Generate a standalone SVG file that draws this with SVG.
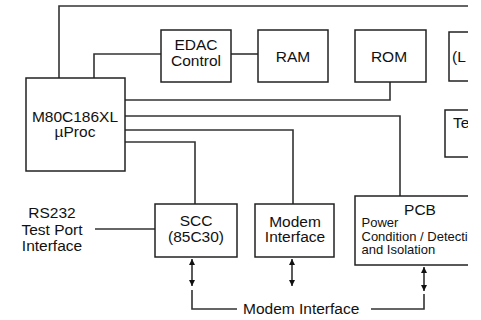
<svg xmlns="http://www.w3.org/2000/svg" width="481" height="320" viewBox="0 0 481 320">
<style>
.box{fill:#fff;stroke:#222;stroke-width:1.5}
.ln{fill:none;stroke:#333;stroke-width:1.6}
.t{font-family:"Liberation Sans",Arial,sans-serif;font-size:15.5px;fill:#111;text-anchor:middle}
.s{font-family:"Liberation Sans",Arial,sans-serif;font-size:13px;fill:#111}
</style>
<defs>
<clipPath id="clip"><rect x="0" y="0" width="468" height="320"/></clipPath>
<marker id="ah" viewBox="0 0 6 8" refX="6" refY="4" markerWidth="6" markerHeight="8" markerUnits="userSpaceOnUse" orient="auto-start-reverse">
<path d="M0,1 L6,4 L0,7 Z" fill="#111"/>
</marker>
</defs>
<rect width="481" height="320" fill="#fff"/>
<g clip-path="url(#clip)">
<g id="connectors">
<polyline class="ln" points="59,78 59,6 470,6"/>
<polyline class="ln" points="94,78 94,54 161,54"/>
<line class="ln" x1="231" y1="54" x2="258" y2="54"/>
<polyline class="ln" points="125,100 390,100 390,82"/>
<polyline class="ln" points="125,116 400,116 400,196"/>
<polyline class="ln" points="125,130 293,130 293,204"/>
<polyline class="ln" points="125,142 195,142 195,204"/>
<line class="ln" x1="95" y1="229" x2="155" y2="229"/>
<line class="ln" x1="192" y1="259" x2="192" y2="286" marker-start="url(#ah)" marker-end="url(#ah)"/>
<polyline class="ln" points="192,290 192,309 237,309"/>
<line class="ln" x1="292" y1="259" x2="292" y2="286" marker-start="url(#ah)" marker-end="url(#ah)"/>
<line class="ln" x1="424" y1="267" x2="424" y2="291" marker-start="url(#ah)" marker-end="url(#ah)"/>
<polyline class="ln" points="424,294 424,309 371,309"/>
</g>
<g id="proc"><rect class="box" x="26" y="78" width="99" height="93"/>
<text class="t" x="75" y="121.5">M80C186XL</text><text class="t" x="75" y="137">µProc</text></g>
<g id="edac"><rect class="box" x="161" y="30" width="70" height="52"/>
<text class="t" x="196" y="50">EDAC</text><text class="t" x="196" y="66">Control</text></g>
<g id="ram"><rect class="box" x="258" y="30" width="70" height="52"/>
<text class="t" x="293" y="61.5">RAM</text></g>
<g id="rom"><rect class="box" x="355" y="30" width="71" height="52"/>
<text class="t" x="389" y="61.5">ROM</text></g>
<g id="lbox"><rect class="box" x="449" y="32" width="40" height="49"/>
<text class="t" x="452" y="62" style="text-anchor:start">(L</text></g>
<g id="tbox"><rect class="box" x="445" y="110" width="40" height="47"/>
<text class="t" x="453" y="128" style="text-anchor:start">Te</text></g>
<g id="rs232"><text class="t" x="52" y="218">RS232</text><text class="t" x="52" y="234.5">Test Port</text><text class="t" x="52" y="250.5">Interface</text></g>
<g id="scc"><rect class="box" x="155" y="204" width="82" height="53"/>
<text class="t" x="196" y="226">SCC</text><text class="t" x="196" y="242">(85C30)</text></g>
<g id="modem"><rect class="box" x="255" y="204" width="79" height="53"/>
<text class="t" x="295" y="226.5">Modem</text><text class="t" x="295" y="242">Interface</text></g>
<g id="pcb"><rect class="box" x="355" y="196" width="130" height="69"/>
<text class="t" x="420" y="215">PCB</text>
<text class="s" x="361.5" y="227">Power</text>
<text class="s" x="361.5" y="240.5">Condition / Detection</text>
<text class="s" x="361.5" y="254">and Isolation</text></g>
<g id="modemlabel"><text class="t" x="243" y="314" style="text-anchor:start">Modem Interface</text></g>
</g>
</svg>
